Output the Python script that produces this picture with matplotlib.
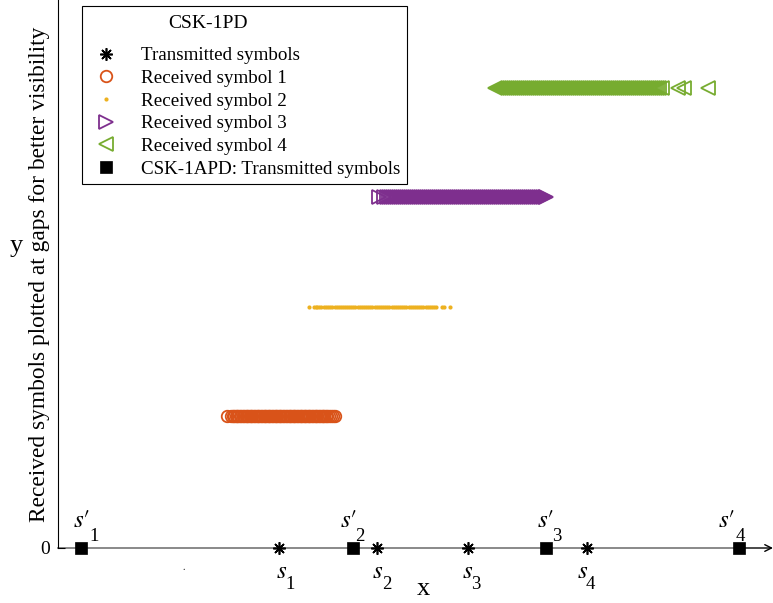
import matplotlib
matplotlib.use("Agg")
import matplotlib.pyplot as plt

plt.rcParams['font.family'] = ['Liberation Serif', 'DejaVu Serif']
plt.rcParams['mathtext.fontset'] = 'stix'

# ---------------- data ----------------
tx_x = [2.213, 3.187, 4.103, 5.287]          # CSK-1PD transmitted symbols
apd_x = [0.232, 2.947, 4.880, 6.813]         # CSK-1APD transmitted symbols
sym_index = ['1', '2', '3', '4']
tx_label_x = [2.18, 3.14, 4.04, 5.19]
tx_index_x = [2.27, 3.24, 4.13, 5.28]
apd_label_x = [0.147, 2.82, 4.787, 6.603]
apd_index_x = [0.315, 2.975, 4.945, 6.775]

row_y = [1.2, 2.2, 3.2, 4.2]   # vertical gaps used for visibility

rx1 = [1.69, 1.735, 1.75, 1.762, 1.778, 1.79, 1.805, 1.82, 1.833, 1.847, 1.86, 1.876,
       1.889, 1.902, 1.918, 1.93, 1.945, 1.958, 1.972, 1.987, 2.0, 2.014, 2.028, 2.041,
       2.056, 2.07, 2.083, 2.097, 2.111, 2.124, 2.139, 2.152, 2.166, 2.18, 2.193, 2.208,
       2.221, 2.235, 2.25, 2.263, 2.277, 2.29, 2.305, 2.318, 2.332, 2.346, 2.36, 2.373,
       2.387, 2.401, 2.415, 2.428, 2.443, 2.456, 2.47, 2.484, 2.497, 2.511, 2.525, 2.539,
       2.552, 2.566, 2.58, 2.594, 2.607, 2.621, 2.636, 2.65, 2.663, 2.677, 2.69, 2.71,
       2.73, 2.75, 2.775]
rx2 = [2.513, 2.555, 2.575, 2.59, 2.61, 2.635, 2.66, 2.68, 2.70, 2.72, 2.74, 2.765,
       2.785, 2.805, 2.83, 2.85, 2.87, 2.89, 2.915, 2.935, 2.955, 2.975, 3.0, 3.02, 3.04,
       3.06, 3.085, 3.105, 3.125, 3.145, 3.17, 3.19, 3.21, 3.23, 3.255, 3.275, 3.295,
       3.315, 3.34, 3.36, 3.38, 3.40, 3.425, 3.445, 3.465, 3.485, 3.51, 3.53, 3.55, 3.57,
       3.595, 3.615, 3.635, 3.655, 3.68, 3.70, 3.72, 3.745, 3.765, 3.785, 3.837, 3.863,
       3.92]
rx3 = [3.215, 3.262, 3.292, 3.309, 3.331, 3.348, 3.371, 3.389, 3.410, 3.428, 3.452,
       3.469, 3.488, 3.511, 3.530, 3.547, 3.571, 3.589, 3.608, 3.632, 3.649, 3.668, 3.691,
       3.709, 3.730, 3.748, 3.772, 3.789, 3.811, 3.829, 3.850, 3.871, 3.888, 3.910, 3.929,
       3.951, 3.968, 3.990, 4.011, 4.029, 4.050, 4.069, 4.091, 4.109, 4.130, 4.151, 4.169,
       4.190, 4.211, 4.229, 4.250, 4.271, 4.289, 4.310, 4.331, 4.349, 4.370, 4.391, 4.409,
       4.430, 4.451, 4.469, 4.490, 4.511, 4.529, 4.550, 4.571, 4.589, 4.610, 4.631, 4.649,
       4.670, 4.691, 4.709, 4.730, 4.751, 4.769, 4.790, 4.811, 4.829, 4.850, 4.866, 4.880]
rx4 = [4.375, 4.392, 4.411, 4.430, 4.449, 4.471, 4.490, 4.509, 4.531, 4.550, 4.569,
       4.590, 4.611, 4.630, 4.649, 4.671, 4.690, 4.709, 4.730, 4.751, 4.770, 4.789, 4.810,
       4.831, 4.850, 4.869, 4.890, 4.911, 4.930, 4.949, 4.971, 4.990, 5.009, 5.030, 5.051,
       5.070, 5.089, 5.110, 5.131, 5.150, 5.169, 5.190, 5.211, 5.230, 5.249, 5.271, 5.290,
       5.309, 5.330, 5.351, 5.370, 5.389, 5.410, 5.431, 5.450, 5.469, 5.490, 5.511, 5.530,
       5.549, 5.571, 5.590, 5.609, 5.630, 5.651, 5.670, 5.689, 5.710, 5.731, 5.750, 5.769,
       5.790, 5.811, 5.830, 5.849, 5.871, 5.890, 5.909, 5.930, 5.951, 5.970, 5.989, 6.015,
       6.045, 6.20, 6.26, 6.50]

legend_labels = ['Transmitted symbols', 'Received symbol 1', 'Received symbol 2',
                 'Received symbol 3', 'Received symbol 4', 'CSK-1APD: Transmitted symbols']

c1, c2, c3, c4 = '#D95319', '#EDB120', '#7E2F8E', '#77AC30'

# ---------------- figure ----------------
W, H = 773, 603
fig = plt.figure(figsize=(W / 100, H / 100), dpi=100)
ax = fig.add_axes([58 / W, 55 / H, 715 / W, 548 / H])
ax.set_xlim(0, 7.15)
ax.set_ylim(0, 5)

# axis line (gray) and arrow
ax.plot([0, apd_x[-1]], [0, 0], color='#808080', lw=1.3, zorder=1, clip_on=False)
ax.annotate('', xy=(7.15, 0), xytext=(apd_x[-1], 0),
            arrowprops=dict(arrowstyle='->', color='black', lw=1.0, mutation_scale=12,
                            shrinkA=0, shrinkB=0), annotation_clip=False, zorder=2)

h_tx, = ax.plot(tx_x, [0] * len(tx_x), linestyle='none', marker=(8, 2, 0), ms=9,
                mew=1.2, color='black', zorder=4, clip_on=False)
h1, = ax.plot(rx1, [row_y[0]] * len(rx1), linestyle='none', marker='o', ms=8.3,
              mfc='none', mec=c1, mew=1.3, zorder=3)
h2, = ax.plot(rx2, [row_y[1]] * len(rx2), linestyle='none', marker='o', ms=3,
              mfc=c2, mec=c2, mew=0, zorder=3)
h3, = ax.plot(rx3, [row_y[2]] * len(rx3), linestyle='none', marker='>', ms=10.5,
              mfc='none', mec=c3, mew=1.3, zorder=3)
h4, = ax.plot(rx4, [row_y[3]] * len(rx4), linestyle='none', marker='<', ms=10.5,
              mfc='none', mec=c4, mew=1.3, zorder=3)
h_apd, = ax.plot(apd_x, [0] * len(apd_x), linestyle='none', marker='s', ms=8.5,
                 mfc='black', mec='black', mew=0.5, zorder=4, clip_on=False)

# symbol labels (s_n below the axis, s'_n above it)
for lx, ix, n in zip(tx_label_x, tx_index_x, sym_index):
    ax.text(lx, -0.274, r'$s$', fontsize=18, ha='left', va='baseline')
    ax.text(ix, -0.374, n, fontsize=13.5, ha='left', va='baseline')
for lx, ix, n in zip(apd_label_x, apd_index_x, sym_index):
    ax.text(lx, 0.192, r'$s{\prime}$', fontsize=18, ha='left', va='baseline')
    ax.text(ix, 0.068, n, fontsize=13.5, ha='left', va='baseline')

# axes styling
for s in ['top', 'right', 'bottom']:
    ax.spines[s].set_visible(False)
ax.spines['left'].set_linewidth(0.8)
ax.set_xticks([])
ax.set_yticks([0])
ax.set_yticklabels(['0'])
ax.tick_params(axis='y', direction='in', length=5, width=0.8, labelsize=14, pad=6)

fig.text(40 / W, 1 - 274 / H, 'Received symbols plotted at gaps for better visibility',
         rotation=90, ha='center', va='center', fontsize=16.8)
fig.text(16 / W, 1 - 246 / H, 'y', ha='center', va='center', fontsize=19)
fig.text(423 / W, 1 - 589 / H, 'x', ha='center', va='center', fontsize=19)
fig.text(184 / W, 1 - 567 / H, '.', ha='center', va='center', fontsize=7)

leg = ax.legend([h_tx, h1, h2, h3, h4, h_apd], legend_labels, title=' ',
                loc='upper left', bbox_to_anchor=(82 / W, 1 - 6 / H),
                bbox_transform=fig.transFigure, borderaxespad=0, fontsize=13.7,
                title_fontsize=23, numpoints=1, handlelength=1.8, handletextpad=0.95,
                labelspacing=0.28, borderpad=0.35, fancybox=False, framealpha=1,
                edgecolor='black')
leg.get_frame().set_linewidth(0.8)
leg.set_zorder(10)
fig.text(208 / W, 1 - 24 / H, 'CSK-1PD', ha='center', va='center', fontsize=14, zorder=20)

fig.savefig('out.png', dpi=100)
